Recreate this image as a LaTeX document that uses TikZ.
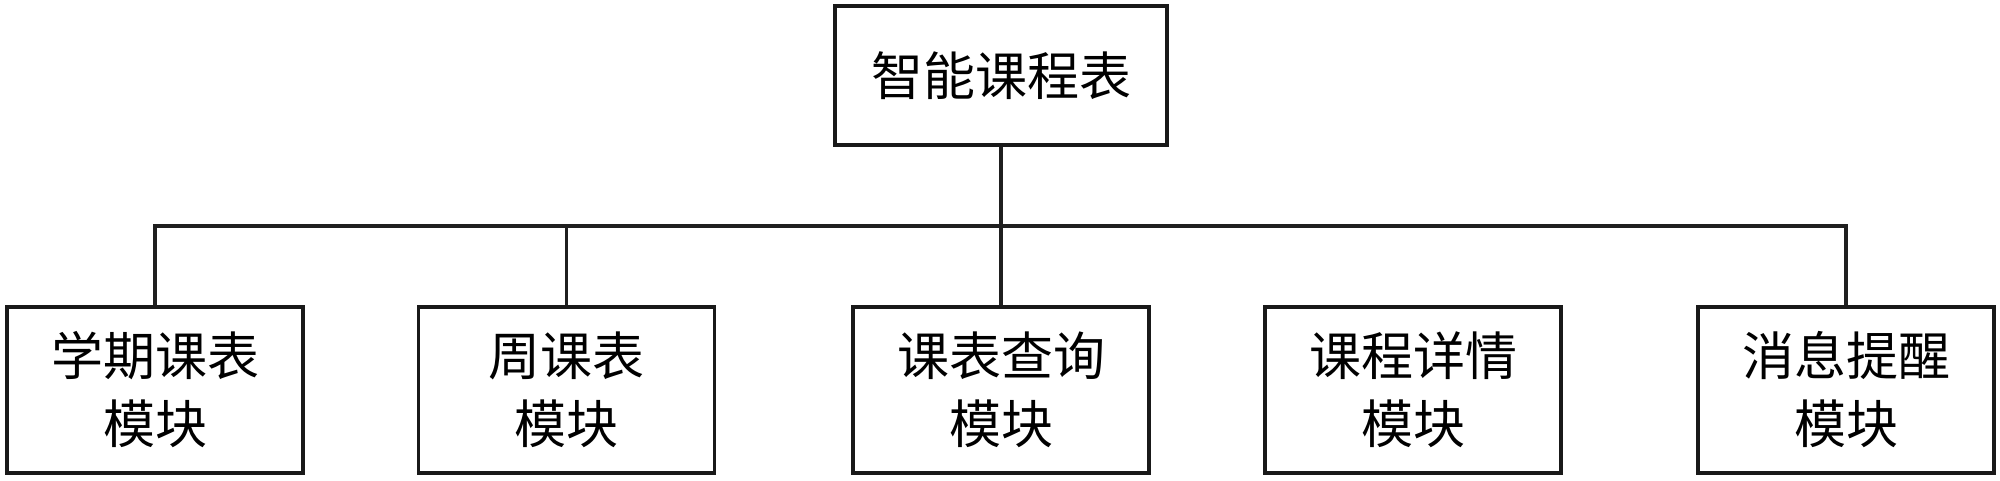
\documentclass[tikz,border=0pt]{standalone}
\usepackage{fontspec}
\newfontfamily\cjk{Noto Sans CJK SC}
\begin{document}
\begin{tikzpicture}[x=0.5pt,y=-0.5pt,
  box/.style={draw=black!90, line width=1.8pt, fill=white, inner sep=0pt,
    align=center, font=\cjk\fontsize{26}{34}\selectfont},
  sub/.style={box, minimum width=148pt, minimum height=83pt},
  conn/.style={draw=black!88, line width=1.7pt}]
\useasboundingbox (0,0) rectangle (2000,481);
\node[box, minimum width=166pt, minimum height=69.5pt] (top) at (1001,75.5) {智能课程表};
\node[sub] (b1) at (155,390) {学期课表\\模块};
\node[sub] (b2) at (566.5,390) {周课表\\模块};
\node[sub] (b3) at (1001,390) {课表查询\\模块};
\node[sub] (b4) at (1413,390) {课程详情\\模块};
\node[sub] (b5) at (1846,390) {消息提醒\\模块};
\coordinate (busR) at (1846,226);
\draw[conn] (b1.north) |- (busR) -- (b5.north);
\draw[conn] (top.south) -- (top.south |- busR);
\draw[conn] (b2.north) -- (b2.north |- busR);
\draw[conn] (b3.north) -- (b3.north |- busR);
\end{tikzpicture}
\end{document}
